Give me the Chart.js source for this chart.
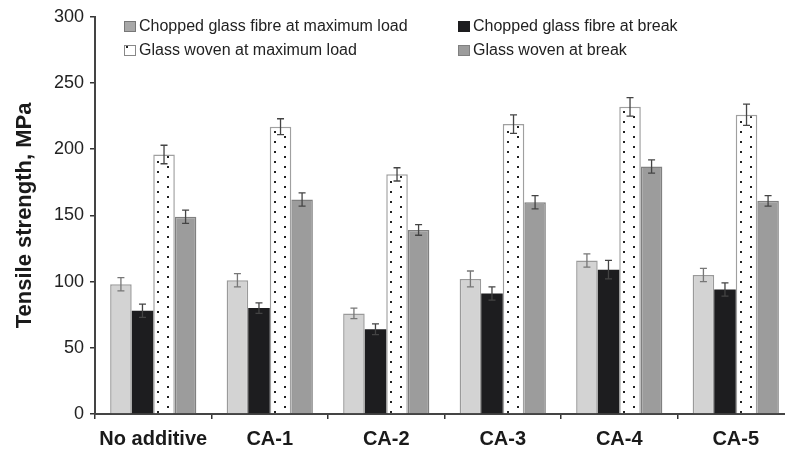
<!DOCTYPE html>
<html>
<head>
<meta charset="utf-8">
<script src="https://cdn.jsdelivr.net/npm/chart.js@4.4.1/dist/chart.umd.min.js"></script>
<style>
  html, body { margin: 0; padding: 0; background: #fff; overflow: hidden; }
  #wrap { width: 800px; height: 453px; }
</style>
</head>
<body>
<div id="wrap"><canvas id="strengthChart" width="800" height="453"></canvas></div>
<script>
const categories = ['No additive', 'CA-1', 'CA-2', 'CA-3', 'CA-4', 'CA-5'];
const seriesLabels = [
  'Chopped glass fibre at maximum load',
  'Chopped glass fibre at break',
  'Glass woven at maximum load',
  'Glass woven at break'
];
const choppedMax = [98, 101, 76, 102, 116, 105];
const choppedBreak = [78, 80, 64, 91, 109, 94];
const wovenMax = [196, 217, 181, 219, 232, 226];
const wovenBreak = [149, 162, 139, 160, 187, 161];
const choppedMaxErr = [5, 5, 4, 6, 5, 5];
const choppedBreakErr = [5, 4, 4, 5, 7, 5];
const wovenMaxErr = [7, 6, 5, 7, 7, 8];
const wovenBreakErr = [5, 5, 4, 5, 5, 4];
const yTicks = [0, 50, 100, 150, 200, 250, 300];

const FONT = "'Liberation Sans', Arial, Helvetica, sans-serif";

// dotted fill for the woven max bars: two staggered columns of dots
function makeDotTile() {
  const c = document.createElement('canvas');
  c.width = 40; c.height = 10;
  const g = c.getContext('2d');
  g.fillStyle = '#fff';
  g.fillRect(0, 0, 40, 10);
  g.fillStyle = '#222';
  g.fillRect(4, 1, 2, 2);
  g.fillRect(14, 6, 2, 2);
  return c;
}
const dotTile = makeDotTile();

function dottedFill(ctx) {
  const chart = ctx.chart;
  const pattern = chart.ctx.createPattern(dotTile, 'repeat-y');
  if (ctx.type === 'data' && chart.scales.x) {
    // third bar of each group starts at the category centre
    const left = chart.scales.x.getPixelForValue(ctx.dataIndex);
    pattern.setTransform(new DOMMatrix().translate(Math.round(left), 0));
  }
  return pattern;
}

const errors = [choppedMaxErr, choppedBreakErr, wovenMaxErr, wovenBreakErr];

const errorBars = {
  id: 'errorBars',
  afterDatasetsDraw(chart) {
    const ctx = chart.ctx;
    const y = chart.scales.y;
    ctx.save();
    ctx.lineWidth = 1.3;
    chart.data.datasets.forEach((ds, di) => {
      const meta = chart.getDatasetMeta(di);
      ctx.strokeStyle = di === 0 ? '#777' : '#444';
      meta.data.forEach((bar, i) => {
        const v = ds.data[i];
        const e = errors[di][i];
        const top = y.getPixelForValue(v + e);
        const bot = y.getPixelForValue(v - e);
        ctx.beginPath();
        ctx.moveTo(bar.x, top);
        ctx.lineTo(bar.x, bot);
        ctx.moveTo(bar.x - 3.5, top);
        ctx.lineTo(bar.x + 3.5, top);
        ctx.moveTo(bar.x - 3.5, bot);
        ctx.lineTo(bar.x + 3.5, bot);
        ctx.stroke();
      });
    });
    ctx.restore();
  }
};

// two-column legend inside the plot, top left
const boxLegend = {
  id: 'boxLegend',
  afterDraw(chart) {
    const ctx = chart.ctx;
    const colX = [124, 458];
    const rowY = [26, 50];
    ctx.save();
    ctx.font = '16px ' + FONT;
    ctx.textBaseline = 'middle';
    chart.data.datasets.forEach((ds, i) => {
      const x = colX[i % 2];
      const yc = rowY[Math.floor(i / 2)];
      if (i === 2) {
        ctx.fillStyle = '#fff';
        ctx.fillRect(x, yc - 5, 12, 11);
        ctx.fillStyle = '#222';
        ctx.fillRect(x + 2, yc - 4, 2, 2);
      } else {
        ctx.fillStyle = ds.legendFill;
        ctx.fillRect(x, yc - 5, 12, 11);
      }
      ctx.strokeStyle = ds.legendStroke;
      ctx.lineWidth = 1;
      ctx.strokeRect(x + 0.5, yc - 4.5, 11, 10);
      ctx.fillStyle = '#222';
      ctx.fillText(ds.label, x + 15, yc + 1);
    });
    ctx.restore();
  }
};

new Chart(document.getElementById('strengthChart'), {
  type: 'bar',
  data: {
    labels: categories,
    datasets: [
      { label: seriesLabels[0], data: choppedMax, backgroundColor: '#d3d3d3',
        borderColor: '#9a9a9a', borderWidth: 1.5, legendFill: '#a8a8a8', legendStroke: '#777' },
      { label: seriesLabels[1], data: choppedBreak, backgroundColor: '#1d1d1f',
        borderColor: '#1d1d1f', borderWidth: 0, legendFill: '#1d1d1f', legendStroke: '#1d1d1f' },
      { label: seriesLabels[2], data: wovenMax, backgroundColor: dottedFill,
        borderColor: '#a0a0a0', borderWidth: 1.5, legendFill: '#fff', legendStroke: '#888' },
      { label: seriesLabels[3], data: wovenBreak, backgroundColor: '#9c9c9c',
        borderColor: '#808080', borderWidth: 1.5, legendFill: '#9c9c9c', legendStroke: '#808080' }
    ]
  },
  options: {
    responsive: false,
    animation: false,
    layout: { padding: { top: 15, right: 6, left: 0, bottom: 0 } },
    datasets: { bar: { categoryPercentage: 0.74, barPercentage: 1.0, borderSkipped: 'bottom' } },
    plugins: { legend: { display: false }, tooltip: { enabled: false } },
    scales: {
      x: {
        afterFit(scale) { scale.height = 39; },
        grid: { display: true, drawOnChartArea: false, drawTicks: true, tickLength: 5,
                tickColor: '#333', lineWidth: 1.5, offset: true },
        border: { display: true, color: '#444', width: 2 },
        ticks: { color: '#1a1a1a', padding: 8, font: { family: FONT, size: 20, weight: 'bold' } }
      },
      y: {
        min: 0,
        max: 300,
        afterFit(scale) { scale.width = 95; },
        afterBuildTicks(scale) { scale.ticks = yTicks.map(v => ({ value: v })); },
        grid: { display: true, drawOnChartArea: false, drawTicks: true, tickLength: 5,
                tickColor: '#333', lineWidth: 1.5 },
        border: { display: true, color: '#444', width: 2 },
        ticks: { color: '#222', padding: 6, font: { family: FONT, size: 18 } },
        title: {
          display: true,
          text: 'Tensile strength, MPa',
          color: '#1a1a1a',
          padding: { top: 12, bottom: 0 },
          font: { family: FONT, size: 22, weight: 'bold' }
        }
      }
    }
  },
  plugins: [errorBars, boxLegend]
});
</script>
</body>
</html>
